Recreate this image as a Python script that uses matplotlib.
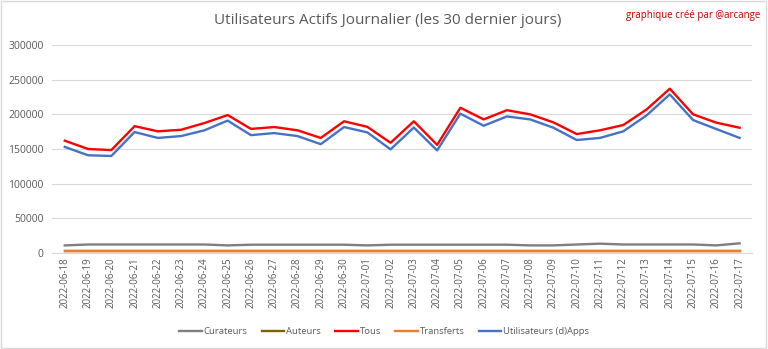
import numpy as np
import matplotlib.pyplot as plt
import pandas as pd

# ── Données ─────────────────────────────────────────────
dates = pd.date_range("2022-06-18", "2022-07-17").strftime("%Y-%m-%d").tolist()

curateurs = [11000, 12300, 12300, 12300, 12300, 12300, 12300, 11000, 12000, 12000,
             12000, 12000, 12000, 11000, 12000, 12000, 12000, 12000, 12000, 12000,
             11000, 11000, 12300, 13500, 12300, 12300, 12300, 12300, 11000, 14000]
auteurs = [2200] * 30
tous = [162000, 150000, 148500, 183000, 175500, 177800, 187500, 199000, 179000, 181700,
        177000, 166000, 190000, 182000, 159000, 190000, 156000, 209500, 192700, 206000,
        200000, 188400, 171600, 177000, 184600, 207000, 237000, 200000, 188000, 180700]
transferts = [2400] * 30
dapps = [153000, 141000, 140000, 174500, 166000, 168700, 177000, 191000, 170000, 173000,
         168700, 157000, 181700, 174000, 149500, 181000, 148000, 201000, 183600, 197000,
         192700, 180700, 163000, 166000, 175500, 198500, 228800, 191800, 178800, 166000]

series = [
    ("Curateurs", curateurs, "#7f7f7f"),
    ("Auteurs", auteurs, "#7f6000"),
    ("Tous", tous, "#ff0000"),
    ("Transferts", transferts, "#ed7d31"),
    ("Utilisateurs (d)Apps", dapps, "#4472c4"),
]

plt.rcParams["font.family"] = ["Open Sans", "DejaVu Sans"]

fig = plt.figure(figsize=(7.68, 3.49), dpi=100)
ax = fig.add_axes([0.0677, 0.275, 0.912, 0.596])

x = np.arange(len(dates))
for name, vals, col in series:
    ax.plot(x, vals, color=col, lw=1.7, label=name)

ax.set_xlim(-0.55, len(dates) - 0.45)
ax.set_ylim(0, 300000)
ax.set_yticks(range(0, 300001, 50000))
ax.yaxis.grid(True, color="#d9d9d9", lw=0.8)
ax.set_axisbelow(True)
ax.set_xticks(x)
ax.set_xticklabels(dates, rotation=90, fontsize=7, color="#595959")
ax.tick_params(axis="y", labelsize=7.5, colors="#595959", length=0, pad=6)
ax.tick_params(axis="x", length=0, pad=3)
for s in ["top", "right", "left"]:
    ax.spines[s].set_visible(False)
ax.spines["bottom"].set_color("#d9d9d9")

fig.text(0.505, 0.94, "Utilisateurs Actifs Journalier (les 30 dernier jours)",
         ha="center", va="center", fontsize=11, color="#595959")
fig.text(0.99, 0.955, "graphique créé par @arcange", ha="right", va="center",
         fontsize=7, color="#c00000")

fig.legend(loc="center", bbox_to_anchor=(0.5, 0.05), ncol=5, frameon=False,
           fontsize=6.8, labelcolor="#595959", handlelength=2.4, handletextpad=0.2,
           columnspacing=1.5)

fig.patches.append(plt.Rectangle((0.001, 0.002), 0.997, 0.995, transform=fig.transFigure,
                                 fill=False, edgecolor="#d9d9d9", lw=1))

fig.savefig("out.png", dpi=100)
